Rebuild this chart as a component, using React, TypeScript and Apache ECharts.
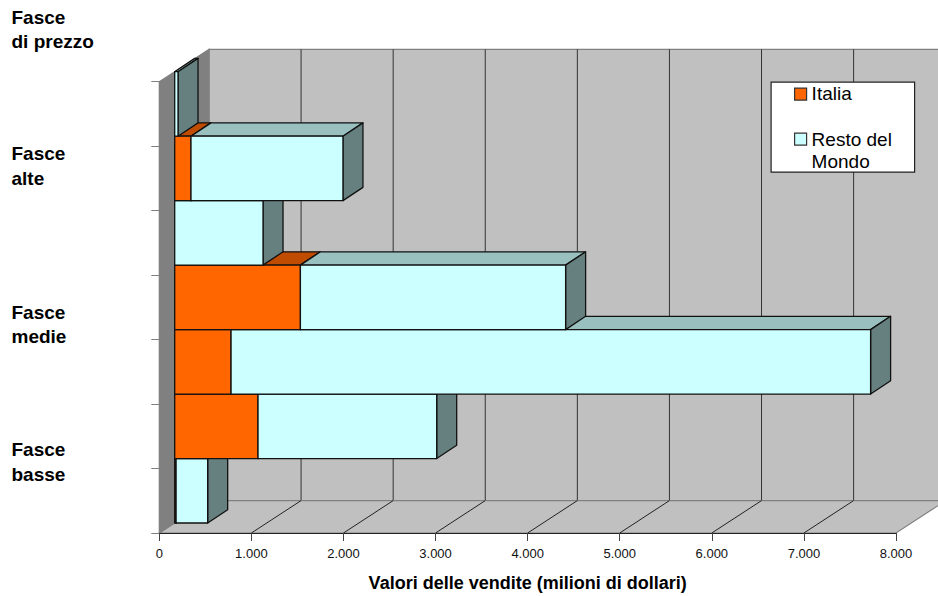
import React, { useEffect, useRef } from "react";
import * as echarts from "echarts";

// Sales by price band, stacked per band, values in millions of dollars.
const bands = ["1", "2", "3", "4", "5", "6", "7"];
const italia = [15, 905, 612, 1365, 0, 177, 0];
const restoDelMondo = [343, 1940, 6945, 2880, 959, 1650, 36];
const valueTicks = [0, 1000, 2000, 3000, 4000, 5000, 6000, 7000, 8000];
const groupLabels = [
  { text: "Fasce\ndi prezzo", y: 5 },
  { text: "Fasce\nalte", y: 141.5 },
  { text: "Fasce\nmedie", y: 300 },
  { text: "Fasce\nbasse", y: 437.5 },
];

const FONT = '"Liberation Sans", Arial, sans-serif';
const ORANGE = { front: "#FF6600", top: "#BF4C00", side: "#804000" };
const CYAN = { front: "#CCFFFF", top: "#99BFBF", side: "#668080" };
const WALL = "#C0C0C0";
const SIDE_WALL = "#808080";
const EDGE = "#111111";

// Oblique projection: how far the box reaches towards the back wall, in pixels.
const ROOM_DX = 49.7;
const ROOM_DY = 32.4;
const BAR_OFFSET_DX = 15.4;
const BAR_OFFSET_DY = 10;
const BAR_DX = 20;
const BAR_DY = 13.3;

type Pt = [number, number];

function renderRoom(params: any, api: any) {
  const { x, y, width, height } = params.coordSys;
  const bottom = y + height;
  const right = x + width;
  const shift = (p: Pt): Pt => [p[0] + ROOM_DX, p[1] - ROOM_DY];
  const poly = (points: Pt[], fill: string, z2: number) => ({
    type: "polygon",
    z2,
    silent: true,
    shape: { points },
    style: { fill, stroke: SIDE_WALL, lineWidth: 1.2 },
  });
  const children: any[] = [
    poly(
      [shift([x, y]), shift([right, y]), shift([right, bottom]), shift([x, bottom])],
      WALL,
      1
    ),
    poly([[x, bottom], [right, bottom], shift([right, bottom]), shift([x, bottom])], WALL, 3),
    poly([[x, y], shift([x, y]), shift([x, bottom]), [x, bottom]], SIDE_WALL, 4),
  ];
  valueTicks.slice(1).forEach((v) => {
    const px = api.coord([v, 0])[0];
    const back = shift([px, bottom]);
    children.push({
      type: "line",
      z2: 2,
      silent: true,
      shape: { x1: back[0], y1: y - ROOM_DY, x2: back[0], y2: back[1] },
      style: { stroke: "#333333", lineWidth: 1 },
    });
    if (v < valueTicks[valueTicks.length - 1]) {
      children.push({
        type: "line",
        z2: 5,
        silent: true,
        shape: { x1: px, y1: bottom, x2: back[0], y2: back[1] },
        style: { stroke: "#222222", lineWidth: 1 },
      });
    }
  });
  return { type: "group", children };
}

function renderSegment(palette: { front: string; top: string; side: string }, order: number) {
  return (_params: any, api: any) => {
    const start = api.value(0);
    const end = api.value(1);
    const band = api.value(2);
    if (end <= start) return { type: "group", children: [] };
    const centre = api.coord([start, band]);
    const stop = api.coord([end, band]);
    const h = api.size([0, 1])[1];
    const x0 = centre[0] + BAR_OFFSET_DX;
    const x1 = stop[0] + BAR_OFFSET_DX;
    const yBottom = centre[1] + h / 2 - BAR_OFFSET_DY;
    const yTop = yBottom - h;
    const base = 100 + band * 10 + order * 3;
    const face = (points: Pt[], fill: string, z2: number) => ({
      type: "polygon",
      z2,
      silent: true,
      shape: { points },
      style: { fill, stroke: EDGE, lineWidth: 1.3, lineJoin: "round" },
    });
    return {
      type: "group",
      children: [
        face(
          [[x0, yTop], [x1, yTop], [x1 + BAR_DX, yTop - BAR_DY], [x0 + BAR_DX, yTop - BAR_DY]],
          palette.top,
          base
        ),
        face(
          [[x1, yTop], [x1 + BAR_DX, yTop - BAR_DY], [x1 + BAR_DX, yBottom - BAR_DY], [x1, yBottom]],
          palette.side,
          base + 1
        ),
        face([[x0, yTop], [x1, yTop], [x1, yBottom], [x0, yBottom]], palette.front, base + 2),
      ],
    };
  };
}

const groupText = groupLabels.map((g) => ({
  type: "text",
  left: 11.5,
  top: g.y,
  z: 10,
  style: {
    text: g.text,
    font: `bold 19px ${FONT}`,
    lineHeight: 24.5,
    fill: "#000000",
  },
}));

const legendBox = {
  type: "group",
  left: 770.5,
  top: 81.5,
  children: [
    {
      type: "rect",
      z: 10,
      shape: { x: 0, y: 0, width: 143.5, height: 90 },
      style: { fill: "#FFFFFF", stroke: "#222222", lineWidth: 1.2 },
    },
    {
      type: "rect",
      z: 11,
      shape: { x: 23.5, y: 6, width: 12, height: 12 },
      style: { fill: ORANGE.front, stroke: "#333333", lineWidth: 1.2 },
    },
    {
      type: "text",
      z: 11,
      x: 40.5,
      y: 2,
      style: { text: "Italia", font: `19px ${FONT}`, fill: "#000000" },
    },
    {
      type: "rect",
      z: 11,
      shape: { x: 23.5, y: 51, width: 12, height: 12 },
      style: { fill: CYAN.front, stroke: "#333333", lineWidth: 1.2 },
    },
    {
      type: "text",
      z: 11,
      x: 40.5,
      y: 46,
      style: { text: "Resto del\nMondo", font: `19px ${FONT}`, lineHeight: 22, fill: "#000000" },
    },
  ],
};

export default function App() {
  const ref = useRef<HTMLDivElement>(null);
  useEffect(() => {
    if (!ref.current) return;
    const chart = echarts.init(ref.current, null, { renderer: "svg" });
    const italiaData = italia.map((v, i) => [0, v, i]);
    const restoData = restoDelMondo.map((v, i) => [italia[i], italia[i] + v, i]);
    chart.setOption({
      animation: false,
      backgroundColor: "#FFFFFF",
      textStyle: { fontFamily: FONT },
      grid: { left: 159.3, top: 81.7, width: 736.7, height: 451.3, outerBoundsMode: "none" },
      xAxis: {
        type: "value",
        min: 0,
        max: 8000,
        interval: 1000,
        z: 1,
        name: "Valori delle vendite (milioni di dollari)",
        nameLocation: "middle",
        nameGap: 41,
        nameTextStyle: { fontFamily: FONT, fontSize: 18, fontWeight: "bold", color: "#000000" },
        axisLine: { show: true, lineStyle: { color: "#222222", width: 1 } },
        axisTick: { show: true, length: 8, lineStyle: { color: "#444444", width: 1 } },
        axisLabel: {
          color: "#111111",
          fontFamily: FONT,
          fontSize: 13,
          margin: 14,
          formatter: (v: number) => (v === 0 ? "0" : `${v / 1000}.000`),
        },
        splitLine: { show: false },
      },
      yAxis: {
        type: "category",
        data: bands,
        z: 1,
        axisLine: { show: true, lineStyle: { color: SIDE_WALL, width: 1 } },
        axisTick: { show: true, length: 8, lineStyle: { color: SIDE_WALL, width: 1 } },
        axisLabel: { show: false },
        splitLine: { show: false },
      },
      series: [
        {
          type: "custom",
          name: "room",
          z: 0,
          silent: true,
          renderItem: renderRoom,
          data: [[0, 0]],
          encode: { x: 0, y: 1 },
        },
        {
          type: "custom",
          name: "Italia",
          z: 2,
          silent: true,
          renderItem: renderSegment(ORANGE, 0),
          data: italiaData,
          encode: { x: [0, 1], y: 2 },
        },
        {
          type: "custom",
          name: "Resto del Mondo",
          z: 2,
          silent: true,
          renderItem: renderSegment(CYAN, 1),
          data: restoData,
          encode: { x: [0, 1], y: 2 },
        },
      ],
      graphic: { elements: [...groupText, legendBox] },
    });
    return () => chart.dispose();
  }, []);
  return (
    <div
      ref={ref}
      style={{ position: "absolute", left: 0, top: 0, width: 938, height: 596 }}
    />
  );
}
